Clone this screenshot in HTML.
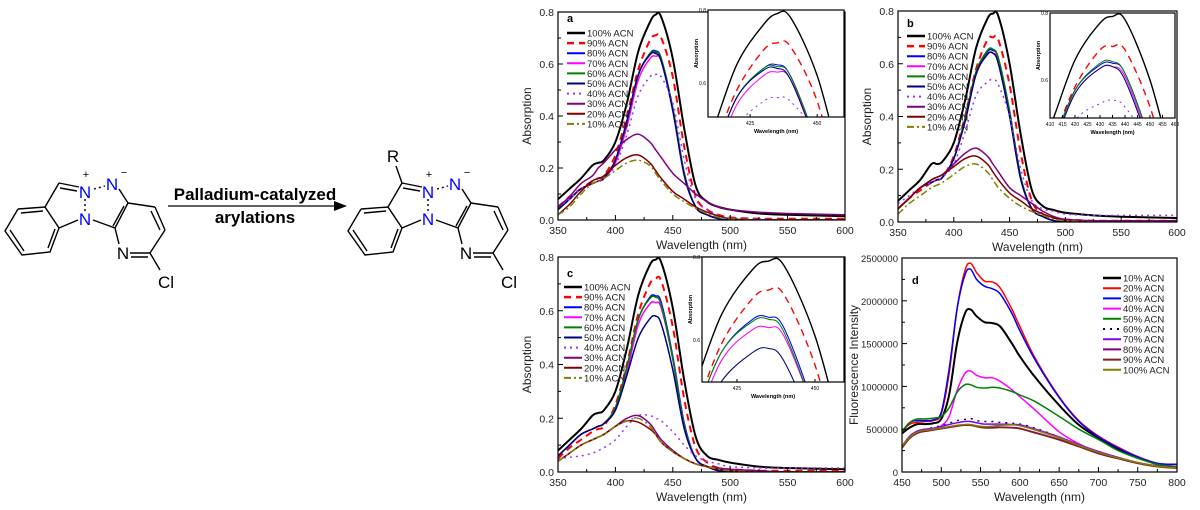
<!DOCTYPE html>
<html><head><meta charset="utf-8"><style>
html,body{margin:0;padding:0;background:#fff;width:1200px;height:510px;overflow:hidden;}
svg{display:block;font-family:"Liberation Sans",Arial,sans-serif;}
</style></head><body>
<svg id="fig" width="1200" height="510" viewBox="0 0 1200 510" xmlns="http://www.w3.org/2000/svg">
<g id="scheme" stroke="#000" stroke-width="1.4" fill="none">
  <g>
    <polyline points="18,209 5,231 22,255 50,252 59,228 45,207 18,209"/>
    <line x1="10" y1="230" x2="24" y2="251" /><line x1="48" y1="248" x2="55" y2="229"/><line x1="21" y1="213" x2="43" y2="211"/>
    <line x1="45" y1="207" x2="59" y2="183"/><line x1="59" y1="183" x2="79" y2="187"/><line x1="60" y1="188" x2="77" y2="191"/>
    <line x1="59" y1="228" x2="78" y2="220"/><line x1="85" y1="199" x2="85" y2="211" stroke-dasharray="2,3"/>
    <line x1="94" y1="189" x2="105" y2="186" stroke-dasharray="2,3"/>
    <line x1="119" y1="189" x2="128" y2="203"/><line x1="93" y1="220" x2="115" y2="228"/>
    <line x1="128" y1="203" x2="115" y2="228"/><line x1="124" y1="206" x2="113" y2="226"/>
    <line x1="128" y1="203" x2="155" y2="207"/><line x1="155" y1="207" x2="165" y2="230"/><line x1="151" y1="211" x2="160" y2="230"/>
    <line x1="165" y1="230" x2="150" y2="253"/><line x1="115" y1="228" x2="119" y2="244"/>
    <line x1="130" y1="253" x2="150" y2="253"/><line x1="131" y1="257" x2="148" y2="257"/>
    <line x1="150" y1="253" x2="160" y2="270"/>
  </g>
  <g>
    <polyline points="361,209 348,231 365,255 393,252 402,228 388,207 361,209"/>
    <line x1="353" y1="230" x2="367" y2="251" /><line x1="391" y1="248" x2="398" y2="229"/><line x1="364" y1="213" x2="386" y2="211"/>
    <line x1="388" y1="207" x2="402" y2="183"/><line x1="402" y1="183" x2="422" y2="187"/><line x1="403" y1="188" x2="420" y2="191"/>
    <line x1="402" y1="183" x2="396" y2="166"/>
    <line x1="402" y1="228" x2="421" y2="220"/><line x1="428" y1="199" x2="428" y2="211" stroke-dasharray="2,3"/>
    <line x1="437" y1="189" x2="448" y2="186" stroke-dasharray="2,3"/>
    <line x1="462" y1="189" x2="471" y2="203"/><line x1="436" y1="220" x2="458" y2="228"/>
    <line x1="471" y1="203" x2="458" y2="228"/><line x1="467" y1="206" x2="456" y2="226"/>
    <line x1="471" y1="203" x2="498" y2="207"/><line x1="498" y1="207" x2="508" y2="230"/><line x1="494" y1="211" x2="503" y2="230"/>
    <line x1="508" y1="230" x2="493" y2="253"/><line x1="458" y1="228" x2="462" y2="244"/>
    <line x1="473" y1="253" x2="493" y2="253"/><line x1="474" y1="257" x2="491" y2="257"/>
    <line x1="493" y1="253" x2="503" y2="270"/>
  </g>
  <line x1="168" y1="206" x2="336" y2="206" stroke-width="1.2"/>
  <polygon points="347,206 334,201 334,211" fill="#000" stroke="none"/>
</g>
<g id="schemetext" font-size="17">
  <text x="85" y="198" fill="#0000ff" text-anchor="middle">N</text>
  <text x="86" y="178" font-size="11" text-anchor="middle">+</text>
  <text x="85" y="225" fill="#0000ff" text-anchor="middle">N</text>
  <text x="112" y="190" fill="#0000ff" text-anchor="middle">N</text>
  <text x="124" y="176" font-size="11" text-anchor="middle">−</text>
  <text x="123" y="259" text-anchor="middle">N</text>
  <text x="166" y="288" text-anchor="middle">Cl</text>
  <text x="428" y="198" fill="#0000ff" text-anchor="middle">N</text>
  <text x="429" y="178" font-size="11" text-anchor="middle">+</text>
  <text x="428" y="225" fill="#0000ff" text-anchor="middle">N</text>
  <text x="455" y="190" fill="#0000ff" text-anchor="middle">N</text>
  <text x="467" y="176" font-size="11" text-anchor="middle">−</text>
  <text x="466" y="259" text-anchor="middle">N</text>
  <text x="509" y="288" text-anchor="middle">Cl</text>
  <text x="393" y="162" text-anchor="middle">R</text>
  <text x="255" y="200" text-anchor="middle" font-weight="bold">Palladium-catalyzed</text>
  <text x="255" y="223" text-anchor="middle" font-weight="bold">arylations</text>
</g>
</svg>
<script>
const wlAbs = [350,360,370,380,385,390,400,410,420,430,435,440,450,460,470,480,490,500,525,550,600];
const labelsAbs = ["100% ACN","90% ACN","80% ACN","70% ACN","60% ACN","50% ACN","40% ACN","30% ACN","20% ACN","10% ACN"];
const a100=[0.08,0.12,0.16,0.21,0.22,0.23,0.30,0.45,0.65,0.76,0.79,0.78,0.62,0.35,0.13,0.07,0.05,0.04,0.025,0.02,0.015];
const a90=[0.05,0.09,0.12,0.15,0.16,0.17,0.25,0.40,0.58,0.69,0.71,0.70,0.55,0.28,0.09,0.04,0.02,0.01,0.005,0.005,0.005];
const a80=[0.04,0.08,0.12,0.14,0.15,0.16,0.23,0.38,0.56,0.64,0.65,0.62,0.43,0.18,0.05,0.02,0.005,0,0,0,0];
const a70=[0.04,0.08,0.12,0.14,0.15,0.16,0.22,0.36,0.54,0.62,0.63,0.61,0.43,0.18,0.05,0.02,0.005,0,0,0,0];
const a60=[0.04,0.08,0.12,0.14,0.15,0.16,0.23,0.38,0.56,0.64,0.645,0.62,0.43,0.18,0.05,0.02,0.005,0,0,0,0];
const a50=[0.04,0.08,0.12,0.14,0.15,0.16,0.23,0.38,0.56,0.635,0.64,0.61,0.42,0.17,0.05,0.02,0.005,0,0,0,0];
const a40=[0.05,0.08,0.12,0.14,0.15,0.16,0.21,0.33,0.48,0.55,0.56,0.55,0.45,0.23,0.08,0.04,0.02,0.01,0.005,0,0];
const a30=[0.05,0.09,0.14,0.17,0.20,0.22,0.27,0.31,0.33,0.30,0.27,0.24,0.18,0.14,0.10,0.07,0.05,0.04,0.03,0.025,0.02];
const a20=[0.02,0.06,0.11,0.15,0.16,0.17,0.21,0.24,0.25,0.22,0.19,0.16,0.11,0.08,0.05,0.03,0.015,0.005,0,0,0];
const a10=[0.02,0.05,0.10,0.14,0.15,0.16,0.19,0.22,0.23,0.21,0.18,0.15,0.10,0.07,0.045,0.025,0.01,0.005,0,0,0];
const b100=[0.08,0.12,0.16,0.22,0.22,0.23,0.30,0.46,0.66,0.77,0.79,0.78,0.60,0.33,0.12,0.06,0.045,0.035,0.025,0.02,0.015];
const b90=[0.05,0.09,0.12,0.15,0.16,0.17,0.25,0.40,0.58,0.69,0.70,0.69,0.52,0.26,0.08,0.03,0.015,0.01,0.005,0.005,0.005];
const b80=[0.05,0.09,0.13,0.15,0.16,0.17,0.24,0.39,0.57,0.645,0.65,0.62,0.42,0.17,0.05,0.02,0.005,0,0,0,0];
const b70=[0.05,0.09,0.13,0.15,0.16,0.17,0.24,0.38,0.56,0.635,0.64,0.61,0.41,0.17,0.05,0.02,0.005,0,0,0,0];
const b60=[0.05,0.09,0.13,0.15,0.16,0.17,0.24,0.39,0.57,0.65,0.655,0.62,0.42,0.17,0.05,0.02,0.005,0,0,0,0];
const b50=[0.05,0.09,0.13,0.15,0.16,0.17,0.24,0.38,0.56,0.635,0.64,0.60,0.40,0.16,0.05,0.02,0.005,0,0,0,0];
const b40=[0.07,0.10,0.13,0.15,0.16,0.17,0.22,0.34,0.48,0.53,0.54,0.52,0.40,0.20,0.08,0.05,0.04,0.03,0.025,0.025,0.025];
const b30=[0.05,0.09,0.13,0.16,0.17,0.18,0.22,0.26,0.28,0.25,0.22,0.19,0.13,0.10,0.07,0.04,0.02,0.01,0.005,0.005,0.005];
const b20=[0.05,0.09,0.13,0.16,0.17,0.18,0.21,0.24,0.25,0.22,0.19,0.16,0.11,0.08,0.05,0.03,0.015,0.005,0,0,0];
const b10=[0.03,0.07,0.10,0.13,0.14,0.15,0.18,0.21,0.22,0.19,0.16,0.13,0.09,0.06,0.04,0.025,0.01,0.005,0,0,0];
const c100=[0.08,0.12,0.16,0.21,0.22,0.23,0.30,0.46,0.66,0.77,0.79,0.78,0.61,0.34,0.13,0.06,0.045,0.035,0.02,0.015,0.01];
const c90=[0.05,0.09,0.12,0.15,0.16,0.17,0.25,0.40,0.59,0.70,0.72,0.71,0.54,0.27,0.09,0.035,0.015,0.01,0.005,0.005,0.005];
const c80=[0.06,0.10,0.14,0.16,0.17,0.18,0.24,0.39,0.57,0.65,0.655,0.63,0.43,0.18,0.05,0.02,0.005,0,0,0,0];
const c70=[0.06,0.10,0.14,0.16,0.17,0.18,0.23,0.37,0.55,0.625,0.63,0.61,0.42,0.17,0.05,0.02,0.005,0,0,0,0];
const c60=[0.06,0.10,0.14,0.16,0.17,0.18,0.24,0.39,0.57,0.645,0.65,0.62,0.42,0.17,0.05,0.02,0.005,0,0,0,0];
const c50=[0.06,0.10,0.14,0.16,0.17,0.18,0.23,0.36,0.50,0.57,0.58,0.55,0.38,0.16,0.05,0.02,0.005,0,0,0,0];
const c40=[0.05,0.055,0.06,0.07,0.08,0.09,0.12,0.17,0.21,0.21,0.20,0.19,0.15,0.10,0.06,0.04,0.03,0.02,0.015,0.015,0.015];
const c30=[0.04,0.07,0.10,0.12,0.13,0.14,0.17,0.20,0.21,0.18,0.15,0.12,0.08,0.05,0.03,0.02,0.015,0.01,0.005,0,0];
const c20=[0.04,0.07,0.10,0.12,0.13,0.14,0.17,0.19,0.185,0.16,0.14,0.11,0.075,0.05,0.03,0.02,0.01,0.005,0,0,0];
const c10=[0.04,0.07,0.10,0.12,0.13,0.14,0.17,0.19,0.20,0.17,0.14,0.11,0.075,0.05,0.03,0.02,0.01,0.005,0,0,0];
const wlFl=[450,460,470,480,490,500,510,520,530,537,545,555,565,575,590,600,620,650,675,700,725,750,775,800];
const labelsFl=["10% ACN","20% ACN","30% ACN","40% ACN","50% ACN","60% ACN","70% ACN","80% ACN","90% ACN","100% ACN"];
const d10=[450000,520000,560000,560000,570000,620000,900000,1500000,1850000,1900000,1820000,1750000,1740000,1700000,1500000,1350000,1100000,780000,550000,400000,270000,170000,90000,60000];
const d20=[470000,560000,580000,590000,600000,680000,1150000,1900000,2350000,2440000,2330000,2230000,2220000,2150000,1900000,1700000,1320000,880000,600000,420000,290000,180000,100000,60000];
const d30=[470000,580000,600000,600000,610000,700000,1200000,1900000,2300000,2370000,2250000,2170000,2140000,2080000,1850000,1650000,1300000,870000,590000,410000,280000,175000,100000,90000];
const d40=[300000,420000,480000,500000,510000,540000,650000,950000,1150000,1180000,1130000,1100000,1100000,1060000,960000,880000,720000,470000,330000,230000,160000,110000,70000,50000];
const d50=[470000,580000,620000,620000,630000,650000,750000,930000,1020000,1020000,990000,980000,990000,980000,940000,900000,820000,650000,500000,380000,250000,160000,90000,60000];
const d60=[300000,420000,480000,500000,520000,540000,570000,600000,615000,625000,600000,590000,590000,580000,570000,560000,510000,410000,320000,240000,170000,110000,70000,50000];
const d70=[300000,420000,480000,500000,510000,530000,555000,575000,590000,590000,575000,560000,560000,560000,555000,550000,500000,410000,320000,240000,170000,110000,70000,50000];
const d80=[280000,400000,460000,480000,495000,510000,525000,540000,550000,550000,535000,520000,520000,525000,520000,510000,460000,380000,300000,220000,160000,105000,65000,45000];
const d90=[280000,395000,455000,475000,490000,505000,520000,535000,545000,545000,530000,515000,515000,520000,515000,505000,455000,375000,295000,215000,155000,100000,62000,42000];
const d100=[300000,410000,470000,490000,500000,515000,530000,545000,555000,555000,540000,530000,535000,545000,550000,540000,490000,400000,310000,230000,165000,110000,68000,48000];
const xTicksAbs=[350,400,450,500,550,600];
const yTicksAbs=[0,0.2,0.4,0.6,0.8];
const xTicksFl=[450,500,550,600,650,700,750,800];
const yTicksFl=[0,500000,1000000,1500000,2000000,2500000];

const NS="http://www.w3.org/2000/svg";
const svg=document.getElementById('fig');
function mk(tag,attrs,parent){const e=document.createElementNS(NS,tag);for(const k in attrs)e.setAttribute(k,attrs[k]);(parent||svg).appendChild(e);return e;}
const absStyles=[["#000",2,""],["#ff0000",2,"7,5"],["#0000ff",1.5,""],["#ff00ff",1.5,""],["#008000",1.5,""],["#000080",1.5,""],["#9933ff",1.5,"2,4"],["#800080",1.5,""],["#800000",1.5,""],["#808000",1.5,"7,3,2,3"]];
const flStyles=[["#000",2,""],["#ff0000",1.5,""],["#0000ff",1.5,""],["#ff00ff",1.5,""],["#008000",1.5,""],["#000080",1.5,"2,5"],["#8000ff",1.5,""],["#800080",1.5,""],["#8b1a1a",1.5,""],["#808000",1.5,""]];
let clipId=0;
function pathD(xs,ys,sx,sy){
  const p=xs.map((x,i)=>[sx(x),sy(ys[i])]);
  let d="M"+p[0][0].toFixed(1)+","+p[0][1].toFixed(1);
  for(let i=0;i<p.length-1;i++){
    const p0=p[Math.max(0,i-1)],p1=p[i],p2=p[i+1],p3=p[Math.min(p.length-1,i+2)];
    const t=6;
    const c1=[p1[0]+(p2[0]-p0[0])/t,p1[1]+(p2[1]-p0[1])/t];
    const c2=[p2[0]-(p3[0]-p1[0])/t,p2[1]-(p3[1]-p1[1])/t];
    d+=" C"+c1.map(v=>v.toFixed(1))+" "+c2.map(v=>v.toFixed(1))+" "+p2[0].toFixed(1)+","+p2[1].toFixed(1);
  }
  return d;
}
function drawSeries(g,xs,series,styles,sx,sy,box,scale){
  const id="clip"+(clipId++);
  const cp=mk('clipPath',{id:id},g);
  mk('rect',{x:box[0],y:box[1],width:box[2]-box[0],height:box[3]-box[1]},cp);
  const sg=mk('g',{'clip-path':'url(#'+id+')'},g);
  series.forEach((s,i)=>{
    const st=styles[i];
    const p=mk('path',{d:pathD(xs,s,sx,sy),fill:'none',stroke:st[0],'stroke-width':st[1]*(scale||1),'stroke-dasharray':st[2]},sg);
    
    
  });
}
function panel(o){
  const g=mk('g',{});
  
  
  const [x0,x1]=o.xr,[y0,y1]=o.yr;
  const sx=v=>o.box[0]+(v-x0)/(x1-x0)*(o.box[2]-o.box[0]);
  const sy=v=>o.box[3]-(v-y0)/(y1-y0)*(o.box[3]-o.box[1]);
  drawSeries(g,o.xs,o.series,o.styles,sx,sy,o.box);
  const fr=mk('rect',{x:o.box[0],y:o.box[1],width:o.box[2]-o.box[0],height:o.box[3]-o.box[1],fill:'none',stroke:'#000','stroke-width':1.2},g);
  
  
  o.xt.forEach((v,i)=>{
    const x=sx(v);
    mk('line',{x1:x,y1:o.box[3],x2:x,y2:o.box[3]-5,stroke:'#000'},g);
    if(i<o.xt.length-1) mk('line',{x1:(x+sx(o.xt[i+1]))/2,y1:o.box[3],x2:(x+sx(o.xt[i+1]))/2,y2:o.box[3]-3,stroke:'#000'},g);
    const t=mk('text',{x:x,y:o.box[3]+14,'font-size':10.5,'text-anchor':'middle',fill:'#222'},g);
    t.textContent=v;
    
    
  });
  o.yt.forEach((v,i)=>{
    const y=sy(v);
    mk('line',{x1:o.box[0],y1:y,x2:o.box[0]+5,y2:y,stroke:'#000'},g);
    if(i<o.yt.length-1) mk('line',{x1:o.box[0],y1:(y+sy(o.yt[i+1]))/2,x2:o.box[0]+3,y2:(y+sy(o.yt[i+1]))/2,stroke:'#000'},g);
    const t=mk('text',{x:o.box[0]-4,y:y+4,'font-size':o.ytfs||10.5,'text-anchor':'end',fill:'#222'},g);
    t.textContent=o.yfmt?o.yfmt(v):v;
    
    
  });
  const xt=mk('text',{x:(o.box[0]+o.box[2])/2,y:o.box[3]+29,'font-size':12,'text-anchor':'middle',fill:'#222'},g);
  xt.textContent='Wavelength (nm)';
  
  
  const yx=o.ytx, yy=(o.box[1]+o.box[3])/2;
  const yt=mk('text',{x:yx,y:yy,'font-size':12,'text-anchor':'middle',fill:'#222',transform:'rotate(-90 '+yx+' '+yy+')'},g);
  yt.textContent=o.ytitle;
  
  
  const pl=mk('text',{x:o.pl[0],y:o.pl[1],'font-size':11,'font-weight':'bold'},g);
  pl.textContent=o.letter;
  
  
  if(o.inset){
    const n=o.inset;
    const ib=n.box;
    const bg=mk('rect',{x:ib[0],y:ib[1],width:ib[2]-ib[0],height:ib[3]-ib[1],fill:'#fff',stroke:'none'},g);
    
    
    const isx=v=>ib[0]+(v-n.xr[0])/(n.xr[1]-n.xr[0])*(ib[2]-ib[0]);
    const isy=v=>ib[3]-(v-n.yr[0])/(n.yr[1]-n.yr[0])*(ib[3]-ib[1]);
    drawSeries(g,o.xs,o.series,o.styles,isx,isy,ib,0.7);
    const f=mk('rect',{x:ib[0],y:ib[1],width:ib[2]-ib[0],height:ib[3]-ib[1],fill:'none',stroke:'#000','stroke-width':1.2},g);
    
    
    n.xt.forEach(v=>{
      const x=isx(v);
      mk('line',{x1:x,y1:ib[3],x2:x,y2:ib[3]-3,stroke:'#000'},g);
      const t=mk('text',{x:x,y:ib[3]+8,'font-size':5,'text-anchor':'middle'},g);
      t.textContent=v;
      
      
    });
    [0.6,0.8].forEach(v=>{
      const y=isy(v);
      const t=mk('text',{x:ib[0]-2,y:y+2,'font-size':5,'text-anchor':'end'},g);
      t.textContent=v.toFixed(1);
      
      
    });
    const ixt=mk('text',{x:(ib[0]+ib[2])/2,y:ib[3]+16,'font-size':5.5,'font-weight':'bold','text-anchor':'middle'},g);
    ixt.textContent='Wavelength (nm)';
    
    
    const iyx=ib[0]-10, iyy=(ib[1]+ib[3])/2-10;
    const iyt=mk('text',{x:iyx,y:iyy,'font-size':5.5,'font-weight':'bold','text-anchor':'middle',transform:'rotate(-90 '+iyx+' '+iyy+')'},g);
    iyt.textContent='Absorption';
    
    
  }
  o.labels.forEach((lab,i)=>{
    const y=o.leg[1]+i*o.leg[3];
    const st=o.styles[i];
    const l=mk('line',{x1:o.leg[0],y1:y,x2:o.leg[0]+18,y2:y,stroke:st[0],'stroke-width':st[1]+0.5,'stroke-dasharray':st[2]},g);
    
    
    const t=mk('text',{x:o.leg[0]+20,y:y+3.5,'font-size':9.5,fill:'#222'},g);
    t.textContent=lab;
    
    
  });
}
panel({name:'panel-a',letter:'a',box:[558,12,845,220],xr:[350,600],yr:[0,0.8],xs:wlAbs,series:[a100,a90,a80,a70,a60,a50,a40,a30,a20,a10],styles:absStyles,labels:labelsAbs,xt:xTicksAbs,yt:yTicksAbs,yfmt:v=>v.toFixed(1),ytitle:'Absorption',ytx:531,pl:[567,22],leg:[567,33,0,10.1],
  inset:{box:[708,10,844,117],xr:[409.3,460],yr:[0.507,0.8],xt:[425,450]}});
panel({name:'panel-b',letter:'b',box:[898,11,1177,222],xr:[350,600],yr:[0,0.8],xs:wlAbs,series:[b100,b90,b80,b70,b60,b50,b40,b30,b20,b10],styles:absStyles,labels:labelsAbs,xt:xTicksAbs,yt:yTicksAbs,yfmt:v=>v.toFixed(1),ytitle:'Absorption',ytx:871,pl:[907,27],leg:[907,36,0,10.1],
  inset:{box:[1050,13,1175,118],xr:[410,460],yr:[0.487,0.8],xt:[410,415,420,425,430,435,440,445,450,455,460]}});
panel({name:'panel-c',letter:'c',box:[558,257,845,472],xr:[350,600],yr:[0,0.8],xs:wlAbs,series:[c100,c90,c80,c70,c60,c50,c40,c30,c20,c10],styles:absStyles,labels:labelsAbs,xt:xTicksAbs,yt:yTicksAbs,yfmt:v=>v.toFixed(1),ytitle:'Absorption',ytx:531,pl:[567,277],leg:[564,287,0,10.1],
  inset:{box:[702,257,844,382],xr:[413.8,459.3],yr:[0.499,0.8],xt:[425,450]}});
panel({name:'panel-d',letter:'d',box:[902,258,1177,472],xr:[450,800],yr:[0,2500000],xs:wlFl,series:[d10,d20,d30,d40,d50,d60,d70,d80,d90,d100],styles:flStyles,labels:labelsFl,xt:xTicksFl,yt:yTicksFl,ytfs:9.5,ytitle:'Fluorescence Intensity',ytx:858,pl:[912,284],leg:[1103,278,0,10.2]});
</script>
</body></html>
